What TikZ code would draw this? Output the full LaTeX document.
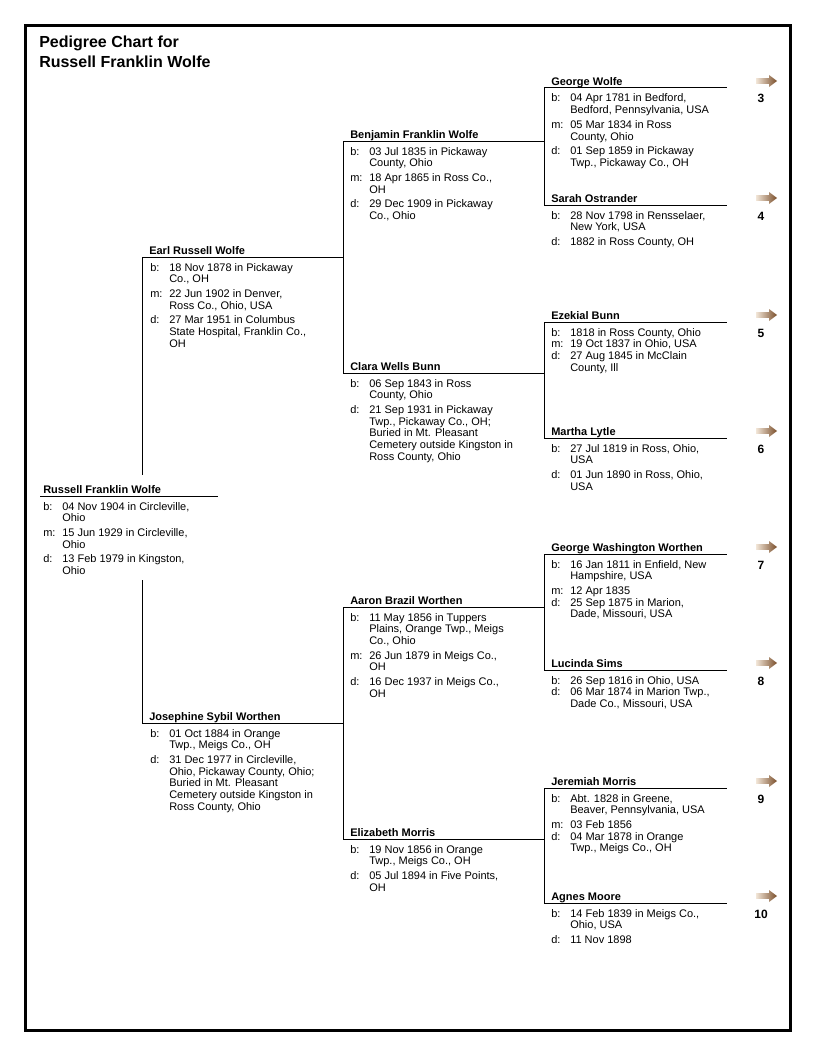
\documentclass[tikz,border=0pt]{standalone}
\usepackage{fontspec}
\setmainfont{Liberation Sans}
\usepackage{tikz}
\usetikzlibrary{positioning}
\definecolor{tiplight}{RGB}{242,230,216}
\definecolor{tipdark}{RGB}{122,78,42}
\newcommand{\factlist}[1]{\begin{tabular}[t]{@{}p{14.25pt}@{}l@{}}#1\end{tabular}}

\begin{document}
\begin{tikzpicture}[x=0.75pt, y=-0.75pt,
        chartline/.style={line width=0.75pt},
        charttitle/.style={font=\fontsize{12}{15}\selectfont\bfseries, anchor=base west, inner sep=0},
        namebox/.style={font=\fontsize{8.25}{8.8}\selectfont\bfseries, anchor=base west, inner sep=0},
        factbox/.style={font=\fontsize{8.25}{8.8}\selectfont, anchor=base west, inner sep=0},
        gennum/.style={font=\fontsize{9}{10}\selectfont\bfseries, anchor=base, inner sep=0},
        moreicon/.pic={\shade[left color=tiplight, right color=tipdark] (-10,-2.8) -- (3,-2.8) -- (3,-6) -- (11,0) -- (3,6) -- (3,2.8) -- (-10,2.8) -- cycle;}]
        \useasboundingbox (0,0) rectangle (816,1056);
        \draw[line width=2.25pt] (25,26) rectangle (790.5,1030.5);

        % Title
        \node[charttitle] (title1) at (39,48) {Pedigree Chart for};
        \node[charttitle] (title2) at (39,68) {Russell Franklin Wolfe};

        % Generation 1
        \coordinate (russellL) at (40,496);
        \coordinate (russellR) at (218,496);
        \coordinate (russellUp) at (142,475);
        \coordinate (russellDown) at (142,580);
        \draw[chartline] (russellL) -- (russellR);
        \node[namebox] (russell) at (43,493) {Russell Franklin Wolfe};
        \node[factbox] (russellfacts) at (43,510) {\factlist{b: & 04 Nov 1904 in Circleville,\\ & Ohio\\[2.2pt] m: & 15 Jun 1929 in Circleville,\\ & Ohio\\[2.2pt] d: & 13 Feb 1979 in Kingston,\\ & Ohio}};

        % Generation 2
        \coordinate (earlL) at (142,257);
        \coordinate (earlR) at (343,257);
        \draw[chartline] (earlL) -- (earlR);
        \node[namebox] (earl) at (149,254) {Earl Russell Wolfe};
        \node[factbox] (earlfacts) at (150,271) {\factlist{b: & 18 Nov 1878 in Pickaway\\ & Co., OH\\[2.2pt] m: & 22 Jun 1902 in Denver,\\ & Ross Co., Ohio, USA\\[2.2pt] d: & 27 Mar 1951 in Columbus\\ & State Hospital, Franklin Co.,\\ & OH}};

        \coordinate (josephineL) at (142,723);
        \coordinate (josephineR) at (343,723);
        \draw[chartline] (josephineL) -- (josephineR);
        \node[namebox] (josephine) at (149,720) {Josephine Sybil Worthen};
        \node[factbox] (josephinefacts) at (150,737) {\factlist{b: & 01 Oct 1884 in Orange\\ & Twp., Meigs Co., OH\\[2.2pt] d: & 31 Dec 1977 in Circleville,\\ & Ohio, Pickaway County, Ohio;\\ & Buried in Mt. Pleasant\\ & Cemetery outside Kingston in\\ & Ross County, Ohio}};

        \draw[chartline] (earlL) -- (russellUp);
        \draw[chartline] (russellDown) -- (josephineL);

        % Generation 3
        \coordinate (benjaminL) at (343,141);
        \coordinate (benjaminR) at (544,141);
        \draw[chartline] (benjaminL) -- (benjaminR);
        \node[namebox] (benjamin) at (350,138) {Benjamin Franklin Wolfe};
        \node[factbox] (benjaminfacts) at (350,155) {\factlist{b: & 03 Jul 1835 in Pickaway\\ & County, Ohio\\[2.2pt] m: & 18 Apr 1865 in Ross Co.,\\ & OH\\[2.2pt] d: & 29 Dec 1909 in Pickaway\\ & Co., Ohio}};

        \coordinate (claraL) at (343,373);
        \coordinate (claraR) at (544,373);
        \draw[chartline] (claraL) -- (claraR);
        \node[namebox] (clara) at (350,370) {Clara Wells Bunn};
        \node[factbox] (clarafacts) at (350,387) {\factlist{b: & 06 Sep 1843 in Ross\\ & County, Ohio\\[2.2pt] d: & 21 Sep 1931 in Pickaway\\ & Twp., Pickaway Co., OH;\\ & Buried in Mt. Pleasant\\ & Cemetery outside Kingston in\\ & Ross County, Ohio}};

        \coordinate (aaronL) at (343,607);
        \coordinate (aaronR) at (544,607);
        \draw[chartline] (aaronL) -- (aaronR);
        \node[namebox] (aaron) at (350,604) {Aaron Brazil Worthen};
        \node[factbox] (aaronfacts) at (350,621) {\factlist{b: & 11 May 1856 in Tuppers\\ & Plains, Orange Twp., Meigs\\ & Co., Ohio\\[2.2pt] m: & 26 Jun 1879 in Meigs Co.,\\ & OH\\[2.2pt] d: & 16 Dec 1937 in Meigs Co.,\\ & OH}};

        \coordinate (elizabethL) at (343,839);
        \coordinate (elizabethR) at (544,839);
        \draw[chartline] (elizabethL) -- (elizabethR);
        \node[namebox] (elizabeth) at (350,836) {Elizabeth Morris};
        \node[factbox] (elizabethfacts) at (350,853) {\factlist{b: & 19 Nov 1856 in Orange\\ & Twp., Meigs Co., OH\\[2.2pt] d: & 05 Jul 1894 in Five Points,\\ & OH}};

        \draw[chartline] (benjaminL) -- (claraL);
        \draw[chartline] (aaronL) -- (elizabethL);

        % Generation 4
        \coordinate (georgeL) at (544,88);
        \coordinate (georgeR) at (727,88);
        \draw[chartline] (georgeL) -- (georgeR);
        \node[namebox] (george) at (551,85) {George Wolfe};
        \node[factbox] (georgefacts) at (551,102) {\factlist{b: & 04 Apr 1781 in Bedford,\\ & Bedford, Pennsylvania, USA\\[2.2pt] m: & 05 Mar 1834 in Ross\\ & County, Ohio\\[2.2pt] d: & 01 Sep 1859 in Pickaway\\ & Twp., Pickaway Co., OH}};

        \coordinate (sarahL) at (544,205);
        \coordinate (sarahR) at (727,205);
        \draw[chartline] (sarahL) -- (sarahR);
        \node[namebox] (sarah) at (551,202) {Sarah Ostrander};
        \node[factbox] (sarahfacts) at (551,219) {\factlist{b: & 28 Nov 1798 in Rensselaer,\\ & New York, USA\\[2.2pt] d: & 1882 in Ross County, OH}};

        \coordinate (ezekialL) at (544,322);
        \coordinate (ezekialR) at (727,322);
        \draw[chartline] (ezekialL) -- (ezekialR);
        \node[namebox] (ezekial) at (551,319) {Ezekial Bunn};
        \node[factbox] (ezekialfacts) at (551,336) {\factlist{b: & 1818 in Ross County, Ohio\\ m: & 19 Oct 1837 in Ohio, USA\\ d: & 27 Aug 1845 in McClain\\ & County, Ill}};

        \coordinate (marthaL) at (544,438);
        \coordinate (marthaR) at (727,438);
        \draw[chartline] (marthaL) -- (marthaR);
        \node[namebox] (martha) at (551,435) {Martha Lytle};
        \node[factbox] (marthafacts) at (551,452) {\factlist{b: & 27 Jul 1819 in Ross, Ohio,\\ & USA\\[2.2pt] d: & 01 Jun 1890 in Ross, Ohio,\\ & USA}};

        \coordinate (gwL) at (544,554);
        \coordinate (gwR) at (727,554);
        \draw[chartline] (gwL) -- (gwR);
        \node[namebox] (gw) at (551,551) {George Washington Worthen};
        \node[factbox] (gwfacts) at (551,568) {\factlist{b: & 16 Jan 1811 in Enfield, New\\ & Hampshire, USA\\[2.2pt] m: & 12 Apr 1835\\ d: & 25 Sep 1875 in Marion,\\ & Dade, Missouri, USA}};

        \coordinate (lucindaL) at (544,670);
        \coordinate (lucindaR) at (727,670);
        \draw[chartline] (lucindaL) -- (lucindaR);
        \node[namebox] (lucinda) at (551,667) {Lucinda Sims};
        \node[factbox] (lucindafacts) at (551,684) {\factlist{b: & 26 Sep 1816 in Ohio, USA\\ d: & 06 Mar 1874 in Marion Twp.,\\ & Dade Co., Missouri, USA}};

        \coordinate (jeremiahL) at (544,788);
        \coordinate (jeremiahR) at (727,788);
        \draw[chartline] (jeremiahL) -- (jeremiahR);
        \node[namebox] (jeremiah) at (551,785) {Jeremiah Morris};
        \node[factbox] (jeremiahfacts) at (551,802) {\factlist{b: & Abt. 1828 in Greene,\\ & Beaver, Pennsylvania, USA\\[2.2pt] m: & 03 Feb 1856\\ d: & 04 Mar 1878 in Orange\\ & Twp., Meigs Co., OH}};

        \coordinate (agnesL) at (544,903);
        \coordinate (agnesR) at (727,903);
        \draw[chartline] (agnesL) -- (agnesR);
        \node[namebox] (agnes) at (551,900) {Agnes Moore};
        \node[factbox] (agnesfacts) at (551,917) {\factlist{b: & 14 Feb 1839 in Meigs Co.,\\ & Ohio, USA\\[2.2pt] d: & 11 Nov 1898}};

        \draw[chartline] (georgeL) -- (sarahL);
        \draw[chartline] (ezekialL) -- (marthaL);
        \draw[chartline] (gwL) -- (lucindaL);
        \draw[chartline] (jeremiahL) -- (agnesL);

        % Continuation arrows
        \pic at (766,81) {moreicon};
        \node[gennum] (num3) at (761,103) {3};
        \pic at (766,198) {moreicon};
        \node[gennum] (num4) at (761,220) {4};
        \pic at (766,315) {moreicon};
        \node[gennum] (num5) at (761,337) {5};
        \pic at (766,431) {moreicon};
        \node[gennum] (num6) at (761,453) {6};
        \pic at (766,547) {moreicon};
        \node[gennum] (num7) at (761,569) {7};
        \pic at (766,663) {moreicon};
        \node[gennum] (num8) at (761,685) {8};
        \pic at (766,781) {moreicon};
        \node[gennum] (num9) at (761,803) {9};
        \pic at (766,896) {moreicon};
        \node[gennum] (num10) at (761,918) {10};

    \end{tikzpicture}
\end{document}
